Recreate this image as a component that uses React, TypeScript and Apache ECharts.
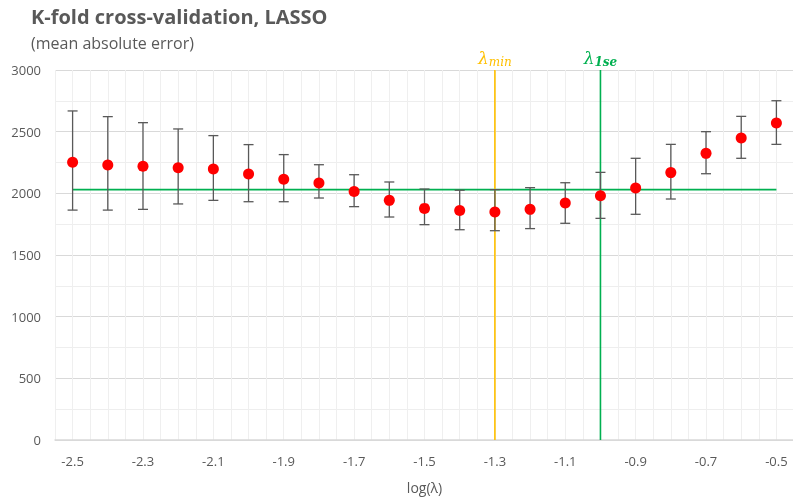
import React, { useEffect, useRef } from "react";
import * as echarts from "echarts";

const logLambda = [-2.5, -2.4, -2.3, -2.2, -2.1, -2.0, -1.9, -1.8, -1.7, -1.6, -1.5, -1.4, -1.3, -1.2, -1.1, -1.0, -0.9, -0.8, -0.7, -0.6, -0.5];
const meanError = [2252, 2230, 2219, 2208, 2197, 2157, 2114, 2084, 2014, 1943, 1878, 1860, 1849, 1870, 1922, 1981, 2043, 2168, 2324, 2449, 2570];
const upperError = [2668, 2622, 2573, 2522, 2468, 2395, 2314, 2232, 2151, 2092, 2035, 2025, 2030, 2046, 2086, 2170, 2284, 2397, 2500, 2624, 2751];
const lowerError = [1864, 1864, 1870, 1914, 1943, 1932, 1932, 1962, 1892, 1808, 1746, 1705, 1697, 1714, 1757, 1797, 1830, 1954, 2159, 2284, 2397];
const thresholdValue = 2030;
const thresholdRange = [-2.5, -0.5];
const lambdaMin = -1.3;
const lambda1se = -1.0;
const xLabelTicks = [-2.5, -2.3, -2.1, -1.9, -1.7, -1.5, -1.3, -1.1, -0.9, -0.7, -0.5];
const yLabelTicks = [0, 500, 1000, 1500, 2000, 2500, 3000];

const FONT = "'Open Sans', 'Noto Sans', sans-serif";
const TEXT = "#595959";

export default function App() {
  const ref = useRef<HTMLDivElement>(null);
  useEffect(() => {
    if (!ref.current) return;
    const chart = echarts.init(ref.current, undefined, { renderer: "svg" });
    const errData = logLambda.map((x, i) => [x, lowerError[i], upperError[i]]);
    const vline = (x: number, color: string, rich: string, sub: any) => ({
      type: "line",
      data: [[x, 0], [x, 3000]],
      symbol: "none",
      lineStyle: { color, width: 1.6 },
      z: 3,
      silent: true,
      endLabel: {
        show: true,
        formatter: rich,
        color,
        position: "top",
        align: "center",
        verticalAlign: "bottom",
        distance: 0,
        offset: [0, -2],
        rich: {
          l: { fontFamily: "'DejaVu Serif', serif", fontStyle: "italic", fontSize: 17, color },
          s: sub,
        },
      },
    });
    chart.setOption({
      animation: false,
      textStyle: { fontFamily: FONT },
      title: [
        { text: "K-fold cross-validation, LASSO", left: 26, top: 1, textStyle: { fontFamily: FONT, fontSize: 20, fontWeight: "bold", color: TEXT } },
        { text: "(mean absolute error)", left: 26, top: 30, textStyle: { fontFamily: FONT, fontSize: 16, fontWeight: "normal", color: TEXT } },
      ],
      grid: { left: 55, top: 70, width: 739, height: 370 },
      xAxis: {
        type: "value",
        min: -2.55,
        max: -0.45,
        interval: 0.05,
        name: "log(λ)",
        nameLocation: "middle",
        nameGap: 40,
        nameTextStyle: { color: TEXT, fontSize: 14, fontFamily: FONT },
        axisLine: { show: true, lineStyle: { color: "#d9d9d9", width: 1.5 } },
        axisTick: { show: false },
        axisLabel: {
          color: TEXT,
          fontSize: 13,
          margin: 14,
          showMinLabel: true,
          showMaxLabel: true,
          formatter: (v: number) => {
            const k = Math.round(v * 100);
            const hit = xLabelTicks.find((t) => Math.round(t * 100) === k);
            return hit !== undefined ? hit.toFixed(1) : "";
          },
        },
        splitLine: { show: true, lineStyle: { color: "#efefef", width: 1 } },
      },
      yAxis: {
        type: "value",
        min: 0,
        max: 3000,
        interval: 250,
        axisLine: { show: false },
        axisTick: { show: false },
        axisLabel: {
          color: TEXT,
          fontSize: 13,
          margin: 14,
          formatter: (v: number) => {
            const r = Math.round(v);
            return yLabelTicks.indexOf(r) >= 0 ? String(r) : "";
          },
        },
        splitLine: { lineStyle: { color: ["#d9d9d9", "#eeeeee"], width: 1 } },
      },
      series: [
        {
          type: "line",
          data: thresholdRange.map((x) => [x, thresholdValue]),
          symbol: "none",
          lineStyle: { color: "#00B050", width: 1.8 },
          z: 2,
          silent: true,
        },
        vline(lambdaMin, "#FFC000", "{l|λ}{s|min}", {
          fontFamily: "'DejaVu Serif', serif", fontStyle: "italic", fontSize: 12, color: "#FFC000", padding: [9, 0, 0, 0],
        }),
        vline(lambda1se, "#00B050", "{l|λ}{s|1se}", {
          fontFamily: "'DejaVu Serif', serif", fontStyle: "italic", fontWeight: "bold", fontSize: 12, color: "#00B050", padding: [9, 0, 0, 0],
        }),
        {
          type: "custom",
          data: errData,
          z: 4,
          silent: true,
          renderItem: (params: any, api: any) => {
            const x = api.value(0);
            const lo = api.coord([x, api.value(1)]);
            const hi = api.coord([x, api.value(2)]);
            const w = 5;
            const style = { stroke: "#595959", lineWidth: 1.3, fill: "none" };
            return {
              type: "group",
              children: [
                { type: "line", shape: { x1: lo[0], y1: lo[1], x2: hi[0], y2: hi[1] }, style },
                { type: "line", shape: { x1: lo[0] - w, y1: lo[1], x2: lo[0] + w, y2: lo[1] }, style },
                { type: "line", shape: { x1: hi[0] - w, y1: hi[1], x2: hi[0] + w, y2: hi[1] }, style },
              ],
            };
          },
        },
        {
          type: "scatter",
          data: logLambda.map((x, i) => [x, meanError[i]]),
          symbol: "circle",
          symbolSize: 11,
          itemStyle: { color: "#FF0000", opacity: 1 },
          z: 5,
        },
      ],
    });
    return () => chart.dispose();
  }, []);
  return <div ref={ref} style={{ position: "fixed", left: 0, top: 0, width: 800, height: 502 }} />;
}
